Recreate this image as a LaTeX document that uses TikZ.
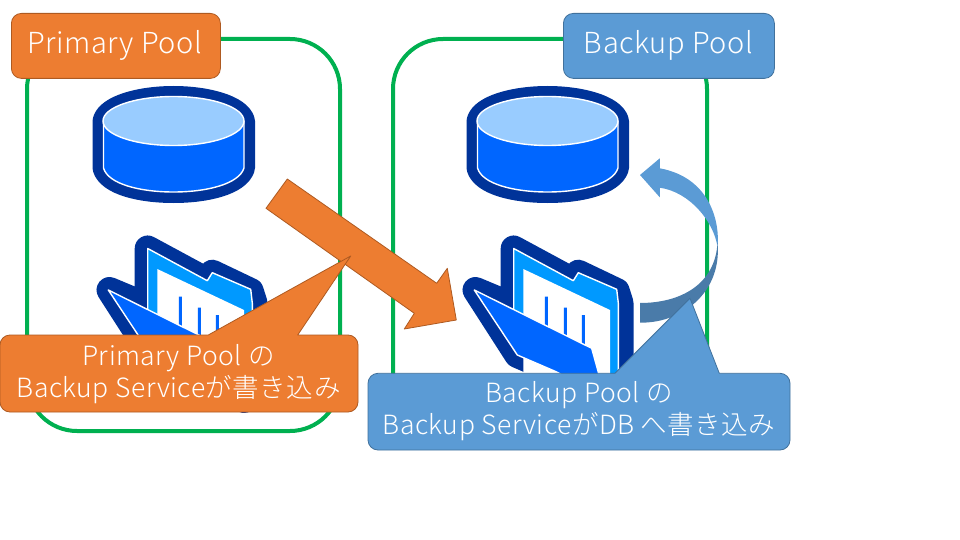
\documentclass[tikz,border=0pt]{standalone}
\usepackage{fontspec}
\setmainfont{Noto Sans CJK JP Light}[LetterSpace=2]
\definecolor{poolgreen}{HTML}{00B050}
\definecolor{accorange}{HTML}{ED7D31}
\definecolor{orangeedge}{HTML}{AE5A21}
\definecolor{accblue}{HTML}{5B9BD5}
\definecolor{blueedge}{HTML}{41719C}
\definecolor{bluedark}{HTML}{4A7BA9}
\definecolor{iconnavy}{HTML}{003399}
\definecolor{iconblue}{HTML}{0066FF}
\definecolor{iconsky}{HTML}{0099FF}
\definecolor{iconpale}{HTML}{99CCFF}
\tikzset{
  x=1pt,y=-1pt,
  pool/.style={draw=poolgreen,line width=4pt,rounded corners=50pt},
  orangeshape/.style={fill=accorange,draw=orangeedge,line width=.8pt,line join=round},
  blueshape/.style={fill=accblue,draw=blueedge,line width=.8pt,line join=round},
  caption/.style={text=white,align=center,font=\fontsize{29}{36}\selectfont,inner sep=0pt},
  calloutlabel/.style={text=white,align=center,font=\fontsize{26.5}{32}\selectfont,inner sep=0pt},
  halo/.style={draw=white,line width=1.4pt,line join=round},
}
% Database cylinder, placed by its left offset
\newcommand{\dbicon}[1]{%
  \begin{scope}[shift={(#1,0)}]
    \draw[iconnavy,fill=iconnavy,line width=22pt,line join=round]
      (103.5,121) -- (103.5,168) .. controls (108,184) and (140,192) .. (173.5,192)
      .. controls (207,192) and (239,184) .. (244,168) -- (244,121)
      .. controls (240,106) and (207,97) .. (173.5,97)
      .. controls (140,97) and (107,106) .. (103.5,121) -- cycle;
    \draw[halo,fill=iconblue]
      (103.5,121) -- (103.5,168) .. controls (108,184) and (140,192) .. (173.5,192)
      .. controls (207,192) and (239,184) .. (244,168) -- (244,121) -- cycle;
    \draw[halo,fill=iconpale]
      (173.5,121) ellipse [x radius=70.5, y radius=24.5];
  \end{scope}}
% Open folder with a ruled page, placed by its left offset
\newcommand{\foldericon}[1]{%
  \begin{scope}[shift={(#1,0)}]
    \draw[iconnavy,fill=iconnavy,line width=26pt,line join=round]
      (109.5,290) -- (147.7,306) -- (147.7,248.5) -- (207.3,280.7) -- (212.3,272.7)
      -- (250.7,291) -- (254.5,303) -- (254.5,385) -- (244,400) -- (190.7,372)
      -- (151.3,355) -- cycle;
    \draw[halo,fill=iconsky]
      (147.7,330) -- (147.7,248.5) -- (207.3,280.7) -- (212.3,272.7) -- (250.7,289.3)
      -- (252.3,303) -- (252.3,400) -- (200,400) -- cycle;
    \fill[white] (157.3,269) -- (244,310) -- (244,400) -- (157.3,400) -- cycle;
    \fill[iconblue] (178.8,296.7) rectangle +(3,40)
                    (197.8,307.7) rectangle +(3,40)
                    (215.8,315) rectangle +(3,40);
    \draw[halo,fill=iconblue]
      (108.3,290) -- (225.7,348.3) -- (240,400) -- (190.7,372) -- (151.3,355) -- cycle;
  \end{scope}}
\begin{document}
\begin{tikzpicture}
  \useasboundingbox (0,0) rectangle (960,540);
  \fill[white] (0,0) rectangle (960,540);

  % Pool frames
  \draw[pool] (27,39) rectangle (340,431);
  \draw[pool] (393,39) rectangle (707,431);

  % Pool contents
  \dbicon{0}
  \dbicon{374}
  \foldericon{0}
  \foldericon{366}

  % Transfer arrow between the pools
  \draw[orangeshape] (287.3,179) -- (436.7,283.3) -- (447.3,268.3) -- (456.3,320)
    -- (404.3,329) -- (414.3,313.3) -- (266,208.3) -- cycle;

  % Curved arrow from the folder up to the database
  \fill[accblue] (659.8,168.3) -- (659.8,158.3) -- (640,175) -- (659.8,197.3) -- (659.8,187.7)
    .. controls (690,192) and (714,222) .. (717.5,247)
    .. controls (720,225) and (712,178) .. (659.8,168.3) -- cycle;
  \fill[bluedark] (640,303) .. controls (680,303) and (715,285) .. (717.5,243)
    .. controls (722,290) and (685,323) .. (640,322.7) -- cycle;

  % Pool titles
  \node[orangeshape,rounded corners=10pt,minimum width=209pt,minimum height=65pt,inner sep=0pt,anchor=north west]
    (primarytitle) at (11,13) {};
  \node[caption] at (114.5,45.5) {Primary Pool};
  \node[blueshape,rounded corners=10pt,minimum width=211pt,minimum height=65pt,inner sep=0pt,anchor=north west]
    (backuptitle) at (563,13) {};
  \node[caption] at (668.5,45.5) {Backup Pool};

  % Callouts
  \draw[orangeshape] (10,335) -- (208.3,335) -- (350.7,256) -- (297.7,335) -- (348,335)
    arc[start angle=-90,end angle=0,radius=10] -- (358,402)
    arc[start angle=0,end angle=90,radius=10] -- (10,412)
    arc[start angle=90,end angle=180,radius=10] -- (0,345)
    arc[start angle=180,end angle=270,radius=10] -- cycle;
  \node[calloutlabel] (primarynote) at (178.5,374) {Primary Pool の\\Backup Serviceが書き込み};

  \draw[blueshape] (378,373.3) -- (615,373.3) -- (690,298.3) -- (719.3,373.3) -- (780,373.3)
    arc[start angle=-90,end angle=0,radius=10] -- (790,440)
    arc[start angle=0,end angle=90,radius=10] -- (378,450)
    arc[start angle=90,end angle=180,radius=10] -- (368,383.3)
    arc[start angle=180,end angle=270,radius=10] -- cycle;
  \node[calloutlabel] (backupnote) at (579,411.5) {Backup Pool の\\Backup ServiceがDB へ書き込み};
\end{tikzpicture}
\end{document}
